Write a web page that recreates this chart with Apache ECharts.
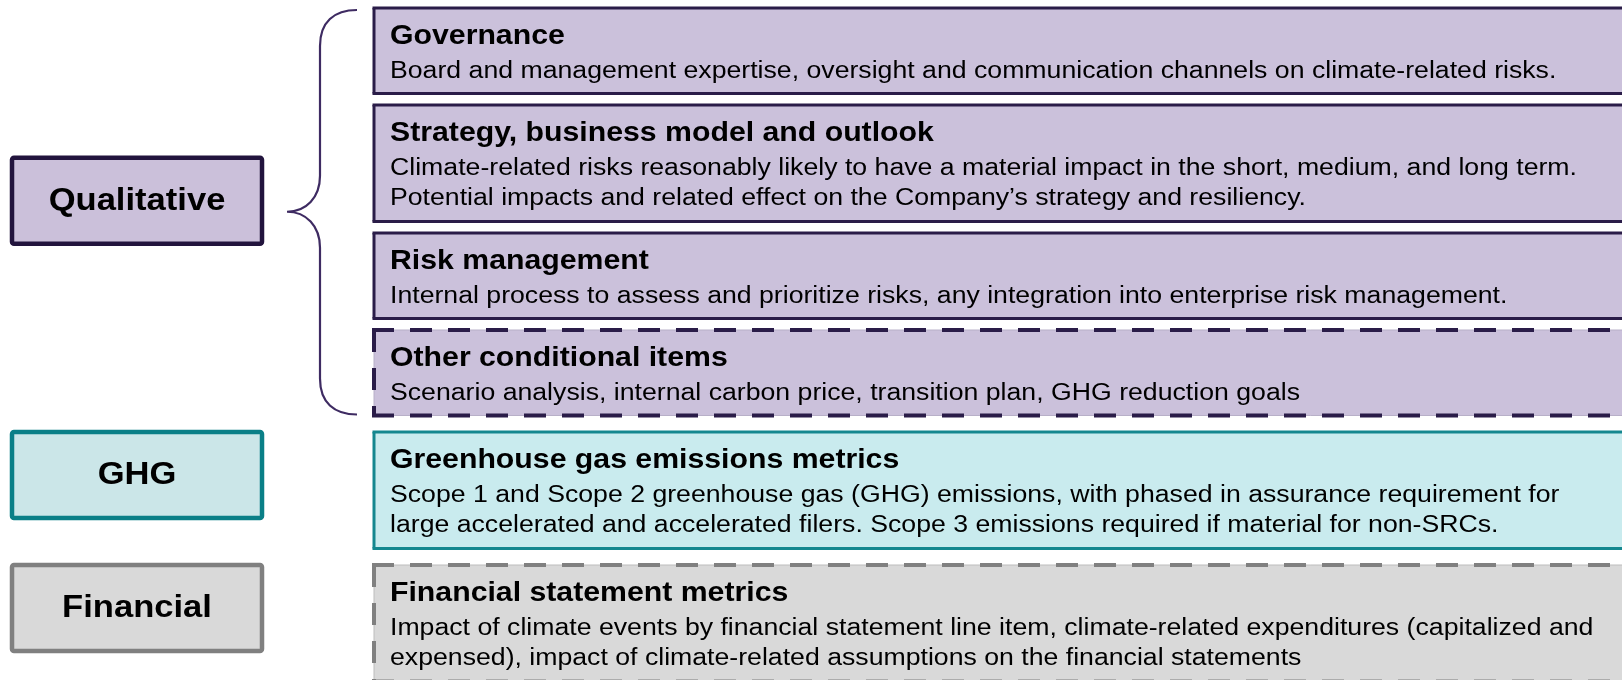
<!DOCTYPE html>
<html><head><meta charset="utf-8">
<script src="https://cdn.jsdelivr.net/npm/echarts@6/dist/echarts.min.js"></script>
<style>html,body{margin:0;padding:0;background:#fff;overflow:hidden}#c{width:1622px;height:680px}</style>
</head><body><div id="c"></div>
<script>
// ---- content ----
const groups = ['Qualitative', 'GHG', 'Financial'];
const itemGroups = [0, 0, 0, 0, 1, 2];
const itemTitles = [
  'Governance',
  'Strategy, business model and outlook',
  'Risk management',
  'Other conditional items',
  'Greenhouse gas emissions metrics',
  'Financial statement metrics'
];
const itemLines = [
  ['Board and management expertise, oversight and communication channels on climate-related risks.'],
  ['Climate-related risks reasonably likely to have a material impact in the short, medium, and long term.',
   'Potential impacts and related effect on the Company\u2019s strategy and resiliency.'],
  ['Internal process to assess and prioritize risks, any integration into enterprise risk management.'],
  ['Scenario analysis, internal carbon price, transition plan, GHG reduction goals'],
  ['Scope 1 and Scope 2 greenhouse gas (GHG) emissions, with phased in assurance requirement for',
   'large accelerated and accelerated filers. Scope 3 emissions required if material for non-SRCs.'],
  ['Impact of climate events by financial statement line item, climate-related expenditures (capitalized and',
   'expensed), impact of climate-related assumptions on the financial statements']
];
const itemConditional = [false, false, false, true, false, true];

// ---- style / layout ----
const FONT = '"Liberation Sans", Arial, sans-serif';
const L = {
  top: 8, gapIn: 11.5, gapOut: 16.5, boxBase: 23.5, lineStep: 31,
  boxLeft: 374, boxRight: 1650, textLeft: 390,
  titleBase: 36.5, descFirst: 34, lineGap: 30.5,
  labLeft: 12, labRight: 262, labH: 86, labLift: 11,
  braceLine: 320, braceEnd: 357, braceTip: 287,
  sx: 1.08, titleSize: 28, descSize: 24.7, labSize: 32
};
const fillR = ['#CBC1DB', '#C9EBEE', '#D9D9D9'];
const strokeR = ['#2A1C48', '#14878F', '#808080'];
const fillL = ['#CBC0DA', '#CBE6E8', '#D9D9D9'];
const strokeL = ['#22143D', '#0A7F87', '#808080'];
const braceColor = '#3E2B62';

// derived row layout (from line counts)
const tops = [], hs = [];
(function () {
  let y = L.top;
  for (let i = 0; i < itemTitles.length; i++) {
    if (i > 0) y += (itemGroups[i] === itemGroups[i - 1]) ? L.gapIn : L.gapOut;
    const n = 1 + itemLines[i].length;
    const h = L.boxBase + L.lineStep * n;
    tops.push(y); hs.push(h); y += h;
  }
})();
function groupSpan(g) {
  let a = Infinity, b = -Infinity;
  itemGroups.forEach((gg, i) => { if (gg === g) { a = Math.min(a, tops[i]); b = Math.max(b, tops[i] + hs[i]); } });
  return [a, b];
}

function txt(api, x, baseline, text, size, bold, align) {
  const p = api.coord([x, baseline - 0.31 * size]);
  return {
    type: 'text', x: p[0], y: p[1], scaleX: L.sx,
    style: { text: text, fontFamily: FONT, fontSize: size, fontWeight: bold ? 'bold' : 'normal',
             fill: '#000', align: align || 'left', verticalAlign: 'middle' }
  };
}
function seg(api, a, b, color, w, dash) {
  const p = api.coord(a), q = api.coord(b);
  return { type: 'line', shape: { x1: p[0], y1: p[1], x2: q[0], y2: q[1] },
           style: { stroke: color, lineWidth: w, lineDash: dash || null } };
}

const chart = echarts.init(document.getElementById('c'), null, { renderer: 'canvas' });
chart.setOption({
  animation: false,
  grid: { left: 0, right: 0, top: 0, bottom: 0 },
  xAxis: { type: 'value', min: 0, max: 1622, show: false },
  yAxis: { type: 'value', min: 0, max: 680, inverse: true, show: false },
  series: [
    { // detail boxes
      type: 'custom', clip: false,
      data: itemTitles.map((t, i) => [i]),
      renderItem: function (params, api) {
        const i = api.value(0), g = itemGroups[i];
        const t = tops[i], h = hs[i];
        const p0 = api.coord([L.boxLeft, t]), p1 = api.coord([L.boxRight, t + h]);
        const children = [{ type: 'rect', shape: { x: p0[0], y: p0[1], width: p1[0] - p0[0], height: p1[1] - p0[1] },
                            style: { fill: fillR[g] } }];
        const dash = itemConditional[i] ? [22, 16] : null;
        const w = itemConditional[i] ? 4 : 3;
        if (itemConditional[i]) {
          const thin = g === 0 ? '#B8B0C8' : '#BDBDBD';
          children.push(seg(api, [L.boxLeft, t], [L.boxRight, t], thin, 1));
          children.push(seg(api, [L.boxLeft, t + h], [L.boxRight, t + h], thin, 1));
          children.push(seg(api, [L.boxLeft, t], [L.boxLeft, t + h], thin, 1));
        }
        children.push(seg(api, [L.boxLeft - w / 2, t], [L.boxRight, t], strokeR[g], w, dash));
        children.push(seg(api, [L.boxLeft - w / 2, t + h], [L.boxRight, t + h], strokeR[g], w, dash));
        children.push(seg(api, [L.boxLeft, t], [L.boxLeft, t + h], strokeR[g], w, dash));
        children.push(txt(api, L.textLeft, t + L.titleBase, itemTitles[i], L.titleSize, true));
        itemLines[i].forEach((s, k) => {
          children.push(txt(api, L.textLeft, t + L.titleBase + L.descFirst + L.lineGap * k, s, L.descSize, false));
        });
        return { type: 'group', children: children };
      }
    },
    { // group label boxes
      type: 'custom', clip: false,
      data: groups.map((g, i) => [i]),
      renderItem: function (params, api) {
        const g = api.value(0);
        const span = groupSpan(g);
        const multi = itemGroups.filter(x => x === g).length > 1;
        const top = multi ? (span[0] + span[1]) / 2 - L.labH / 2 - L.labLift : span[0];
        const p0 = api.coord([L.labLeft, top]), p1 = api.coord([L.labRight, top + L.labH]);
        const cx = (L.labLeft + L.labRight) / 2, cy = top + L.labH / 2;
        const c = api.coord([cx, cy]);
        return { type: 'group', children: [
          { type: 'rect', shape: { x: p0[0], y: p0[1], width: p1[0] - p0[0], height: p1[1] - p0[1], r: 2 },
            style: { fill: fillL[g], stroke: strokeL[g], lineWidth: 4.5 } },
          { type: 'text', x: c[0], y: c[1], scaleX: L.sx,
            style: { text: groups[g], fontFamily: FONT, fontSize: L.labSize, fontWeight: 'bold',
                     fill: '#000', align: 'center', verticalAlign: 'middle' } }
        ] };
      }
    },
    { // brace for multi-item group
      type: 'custom', clip: false,
      data: [[0]],
      renderItem: function (params, api) {
        const span = groupSpan(api.value(0));
        const a = span[0] + 2, b = span[1] - 1, m = (span[0] + span[1]) / 2;
        const X = L.braceLine, E = L.braceEnd, T = L.braceTip;
        const P = (x, y) => api.coord([x, y]).join(',');
        const d = 'M' + P(E, a) + ' C' + P(X + 14, a) + ' ' + P(X, a + 12) + ' ' + P(X, a + 36) +
          ' L' + P(X, m - 36) + ' C' + P(X, m - 14) + ' ' + P(X - 14, m) + ' ' + P(T, m) +
          ' C' + P(X - 14, m) + ' ' + P(X, m + 14) + ' ' + P(X, m + 36) +
          ' L' + P(X, b - 36) + ' C' + P(X, b - 12) + ' ' + P(X + 14, b) + ' ' + P(E, b);
        return { type: 'path', shape: { pathData: d }, style: { fill: null, stroke: braceColor, lineWidth: 2.2 } };
      }
    }
  ]
});
</script>
</body></html>
